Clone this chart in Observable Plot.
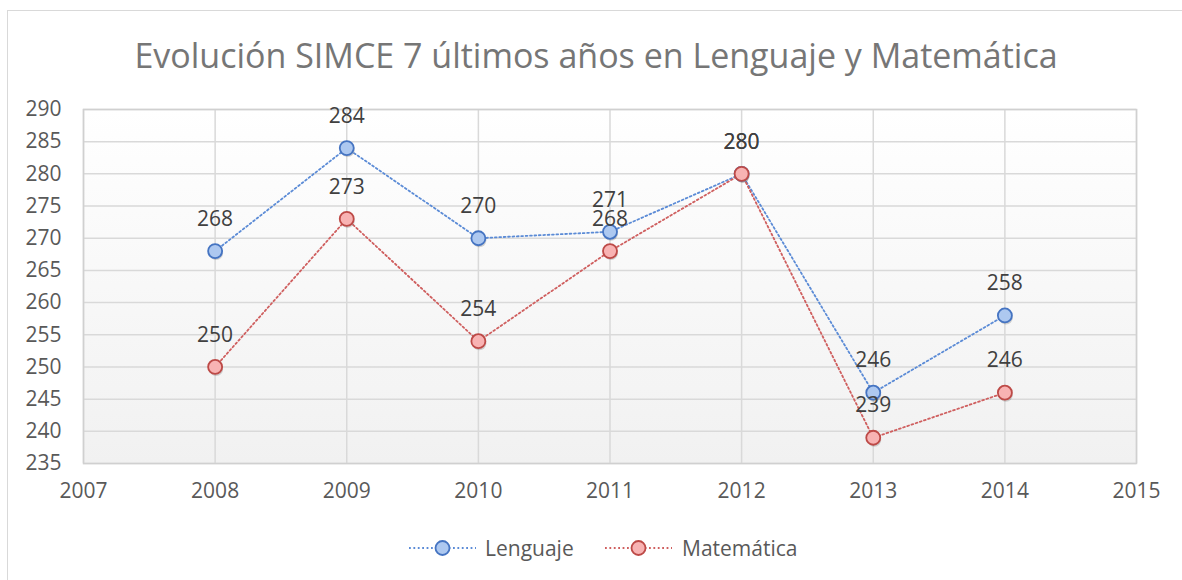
<!DOCTYPE html>
<html>
<head>
<meta charset="utf-8">
<script src="https://cdn.jsdelivr.net/npm/d3@7"></script>
<script src="https://cdn.jsdelivr.net/npm/@observablehq/plot@0.6"></script>
<style>
  html, body { margin: 0; padding: 0; background: #fff; overflow: hidden; }
  #wrap { position: relative; width: 1182px; height: 580px; overflow: hidden; font-family: "Open Sans", sans-serif; }
  #border { position: absolute; left: 7px; top: 10px; width: 1300px; height: 700px; border: 1.5px solid #d9d9d9; box-sizing: border-box; }
  #title { position: absolute; left: 10px; top: 0; width: 1172px; height: 90px; line-height: 110px; text-align: center; font-size: 34px; color: #767676; }
  #chart { position: absolute; left: 0; top: 90px; }
  #legend { position: absolute; left: 0; top: 508px; width: 1182px; height: 72px; }
  .lg { position: absolute; top: 40px; transform: translateY(-50%); font-size: 21px; color: #595959; white-space: nowrap; }
</style>
</head>
<body>
<div id="wrap">
  <div id="border"></div>
  <div id="title"></div>
  <div id="chart"></div>
  <div id="legend"></div>
</div>
<script>
const titleText = "Evolución SIMCE 7 últimos años en Lenguaje y Matemática";
const years = [2008, 2009, 2010, 2011, 2012, 2013, 2014];
const lenguaje = [268, 284, 270, 271, 280, 246, 258];
const matematica = [250, 273, 254, 268, 280, 239, 246];
const seriesNames = ["Lenguaje", "Matemática"];
const xTicks = [2007, 2008, 2009, 2010, 2011, 2012, 2013, 2014, 2015];
const yTicks = [235, 240, 245, 250, 255, 260, 265, 270, 275, 280, 285, 290];
const lineColors = ["#5b8bd6", "#cf5f5f"];
const dotFills = ["#adc8f0", "#f8b3b3"];
const dotStrokes = ["#4574c2", "#bd4a47"];

document.getElementById("title").textContent = titleText;

const data = [];
years.forEach((y, i) => data.push({year: y, value: lenguaje[i], series: seriesNames[0]}));
years.forEach((y, i) => data.push({year: y, value: matematica[i], series: seriesNames[1]}));

const gradMark = () => {
  const ns = "http://www.w3.org/2000/svg";
  const g = document.createElementNS(ns, "g");
  g.innerHTML = `<defs><linearGradient id="bg" x1="0" y1="0" x2="0" y2="1">
    <stop offset="0" stop-color="#ffffff"/><stop offset="1" stop-color="#f1f1f1"/></linearGradient></defs>`;
  return g;
};

const plot = Plot.plot({
  width: 1182,
  height: 418,
  marginLeft: 83,
  marginRight: 46,
  marginTop: 19,
  marginBottom: 45,
  style: {fontFamily: "'Open Sans', sans-serif", fontSize: "22px", color: "#595959", background: "transparent", overflow: "visible"},
  x: {domain: [2007, 2015], ticks: xTicks, tickFormat: d => String(d), tickSize: 0, tickPadding: 20, label: null},
  y: {domain: [235, 290], ticks: yTicks, tickSize: 0, tickPadding: 22, label: null},
  marks: [
    gradMark,
    Plot.frame({fill: "url(#bg)", stroke: null}),
    Plot.ruleX(xTicks, {stroke: "#d9d9d9", strokeWidth: 1.5}),
    Plot.ruleY(yTicks, {stroke: "#d9d9d9", strokeWidth: 1.5}),
    Plot.frame({stroke: "#d0d0d0", strokeWidth: 1.5}),
    Plot.axisX({ticks: xTicks, tickFormat: d => String(d), tickSize: 0, tickPadding: 20, fill: "#595959", fontSize: 21}),
    Plot.axisY({ticks: yTicks, tickSize: 0, tickPadding: 22, fill: "#595959", fontSize: 21}),
    Plot.line(data, {x: "year", y: "value", z: "series", stroke: "series", strokeWidth: 1.8, strokeDasharray: "1.8,2.6"}),
    Plot.dot(data, {x: "year", y: "value", r: 7, fill: "#000", fillOpacity: 0.16, stroke: null, dx: 1, dy: 2}),
    Plot.dot(data, {x: "year", y: "value", r: 7, fill: d => dotFills[seriesNames.indexOf(d.series)], stroke: d => dotStrokes[seriesNames.indexOf(d.series)], strokeWidth: 1.8}),
    Plot.text(data, {x: "year", y: "value", text: d => String(d.value), dy: -32, fontSize: 21, fill: "#404040"})
  ],
  color: {domain: seriesNames, range: lineColors}
});
document.getElementById("chart").appendChild(plot);

// legend
const legend = document.getElementById("legend");
const lgItems = [{name: seriesNames[0], x: 409, tx: 485}, {name: seriesNames[1], x: 605, tx: 682}];
lgItems.forEach((it, i) => {
  const sym = document.createElementNS("http://www.w3.org/2000/svg", "svg");
  sym.setAttribute("width", 68); sym.setAttribute("height", 20);
  sym.style.position = "absolute"; sym.style.left = it.x + "px"; sym.style.top = "30px";
  sym.innerHTML = `<line x1="0" x2="67" y1="10" y2="10" stroke="${lineColors[i]}" stroke-width="1.8" stroke-dasharray="1.8,2.6"/>
    <circle cx="33.5" cy="10" r="7" fill="${dotFills[i]}" stroke="${dotStrokes[i]}" stroke-width="1.8"/>`;
  legend.appendChild(sym);
  const t = document.createElement("div");
  t.className = "lg"; t.style.left = it.tx + "px"; t.textContent = it.name;
  legend.appendChild(t);
});
</script>
</body>
</html>
